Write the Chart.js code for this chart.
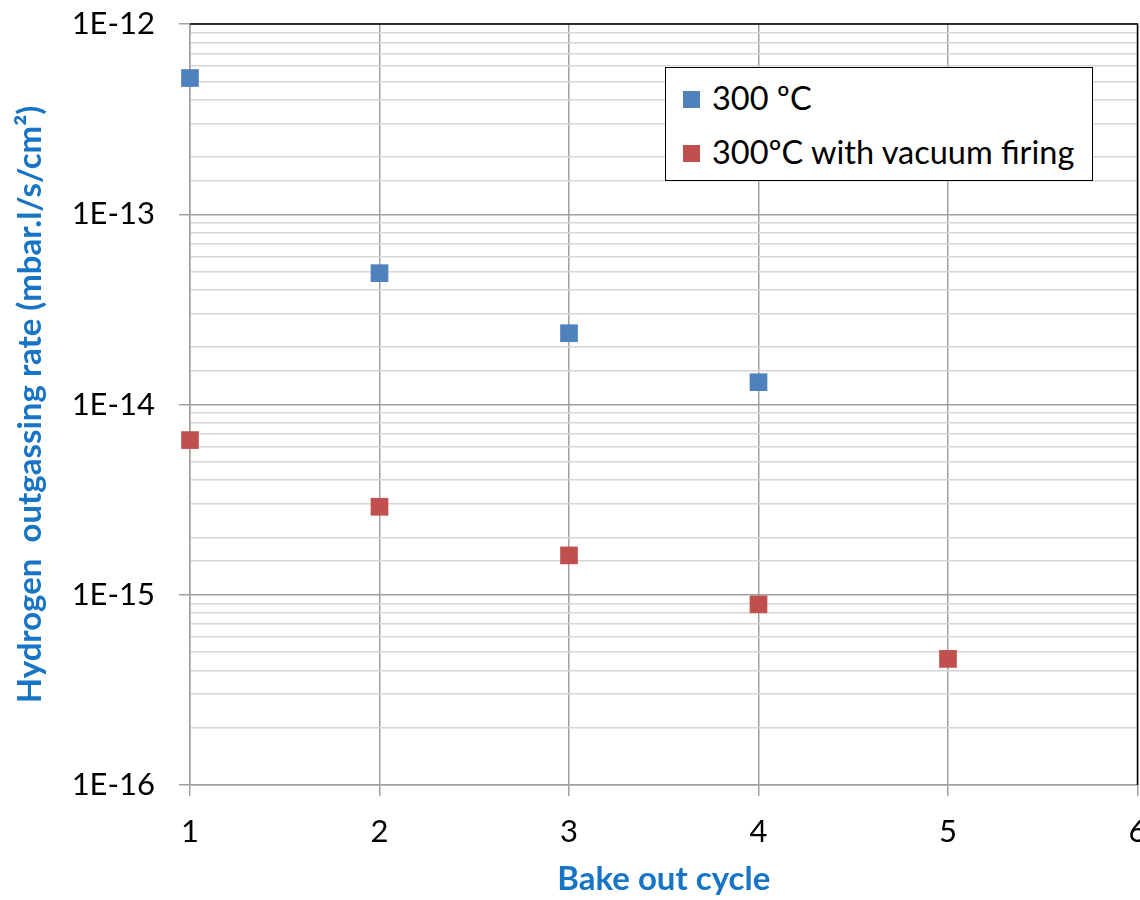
<!DOCTYPE html>
<html>
<head>
<meta charset="utf-8">
<script src="https://cdn.jsdelivr.net/npm/chart.js@4.4.1/dist/chart.umd.min.js"></script>
<style>
  html, body { margin: 0; padding: 0; background: #fff; overflow: hidden; }
  #wrap { position: relative; width: 1140px; height: 900px; overflow: hidden; }
  #chart { display: block; }
  #legend {
    position: absolute; left: 665px; top: 67px; width: 426px; height: 112px;
    border: 1.5px solid #000; background: #fff;
    font-family: Lato, sans-serif; font-size: 32.5px; color: #000;
  }
  #legend .item { position: absolute; left: 17px; height: 36px; line-height: 36px; white-space: nowrap; }
  #legend .box { display: inline-block; width: 17px; height: 17px; margin-right: 12px; vertical-align: middle; position: relative; top: -2px; }
</style>
</head>
<body>
<div id="wrap">
  <!-- canvas a little wider than the window: the last x label is cut by the edge like in the source -->
  <canvas id="chart" width="1150" height="900"></canvas>
  <div id="legend"></div>
</div>
<script>
const cycles = [1, 2, 3, 4, 5];
const plain300 = [5.2e-13, 4.9e-14, 2.37e-14, 1.31e-14];
const firing300 = [6.5e-15, 2.9e-15, 1.61e-15, 8.9e-16, 4.6e-16];
const seriesNames = ['300 ºC', '300ºC with vacuum firing'];
const seriesColors = ['#4F81BD', '#C0504D'];
const xTickValues = [1, 2, 3, 4, 5, 6];
const xTickLabels = ['1', '2', '3', '4', '5', '6'];
const yTickValues = [1e-16, 1e-15, 1e-14, 1e-13, 1e-12];
const yTickLabels = ['1E-16', '1E-15', '1E-14', '1E-13', '1E-12'];

const FONT = 'Lato, sans-serif';
const TITLE_BLUE = '#1874C4';

function toPoints(values) {
  return values.map((v, i) => ({ x: cycles[i], y: v }));
}

function decadeIndex(value) {
  return yTickValues.findIndex(v => Math.abs(Math.log10(v) - Math.log10(value)) < 1e-6);
}

const plotBorder = {
  id: 'plotBorder',
  afterDraw(chart) {
    const { ctx, chartArea: a } = chart;
    ctx.save();
    ctx.strokeStyle = '#000';
    ctx.lineWidth = 1.5;
    ctx.beginPath();
    ctx.moveTo(a.left, a.top);
    ctx.lineTo(a.right, a.top);
    ctx.lineTo(a.right, a.bottom);
    ctx.stroke();
    ctx.restore();
  }
};

const chart = new Chart(document.getElementById('chart'), {
  type: 'scatter',
  data: {
    datasets: [plain300, firing300].map((vals, i) => ({
      label: seriesNames[i],
      data: toPoints(vals),
      pointStyle: 'rect',
      pointRadius: 12.5,
      pointHoverRadius: 12.5,
      backgroundColor: seriesColors[i],
      borderColor: seriesColors[i],
      borderWidth: 0,
      clip: false
    }))
  },
  options: {
    responsive: false,
    animation: false,
    layout: { padding: { top: 24, right: 3, left: 0, bottom: 0 } },
    plugins: {
      legend: { display: false },
      tooltip: { enabled: false }
    },
    scales: {
      x: {
        type: 'linear',
        min: 1,
        max: 6,
        afterBuildTicks: scale => { scale.ticks = xTickValues.map(v => ({ value: v })); },
        afterFit: scale => { scale.height = 115; scale.paddingLeft = 0; scale.paddingRight = 0; },
        ticks: {
          autoSkip: false,
          maxRotation: 0,
          padding: 17,
          color: '#000',
          font: { family: FONT, size: 31 },
          callback: v => xTickLabels[xTickValues.indexOf(v)]
        },
        grid: { color: '#A0A0A0', lineWidth: 1.5, tickLength: 11, tickColor: '#A0A0A0' },
        border: { color: '#A0A0A0', width: 1.5 },
        title: {
          display: true,
          text: 'Bake out cycle',
          color: TITLE_BLUE,
          font: { family: FONT, size: 33, weight: 'bold' },
          padding: { top: 0, bottom: 1 }
        }
      },
      y: {
        type: 'logarithmic',
        min: 1e-16,
        max: 1e-12,
        afterFit: scale => { scale.width = 190; scale.paddingTop = 0; scale.paddingBottom = 0; },
        ticks: {
          autoSkip: false,
          padding: 24,
          color: '#000',
          font: { family: FONT, size: 31 },
          callback: v => {
            const i = decadeIndex(v);
            return i >= 0 ? yTickLabels[i] : '';
          }
        },
        grid: {
          lineWidth: 1.5,
          tickLength: 11,
          color: c => (c.tick && decadeIndex(c.tick.value) >= 0) ? '#A0A0A0' : '#D6D6D6',
          tickColor: c => (c.tick && decadeIndex(c.tick.value) >= 0) ? '#A0A0A0' : 'rgba(0,0,0,0)'
        },
        border: { color: '#A0A0A0', width: 1.5 },
        title: {
          display: true,
          text: 'Hydrogen  outgassing rate (mbar.l/s/cm²)',
          color: TITLE_BLUE,
          font: { family: FONT, size: 33, weight: 'bold' },
          padding: { top: 11, bottom: 0 }
        }
      }
    }
  },
  plugins: [plotBorder]
});

// legend built from the datasets
const legend = document.getElementById('legend');
chart.data.datasets.forEach((ds, i) => {
  const item = document.createElement('div');
  item.className = 'item';
  item.style.top = (12 + i * 54) + 'px';
  const box = document.createElement('span');
  box.className = 'box';
  box.style.background = ds.backgroundColor;
  item.appendChild(box);
  item.appendChild(document.createTextNode(ds.label));
  legend.appendChild(item);
});
</script>
</body>
</html>
